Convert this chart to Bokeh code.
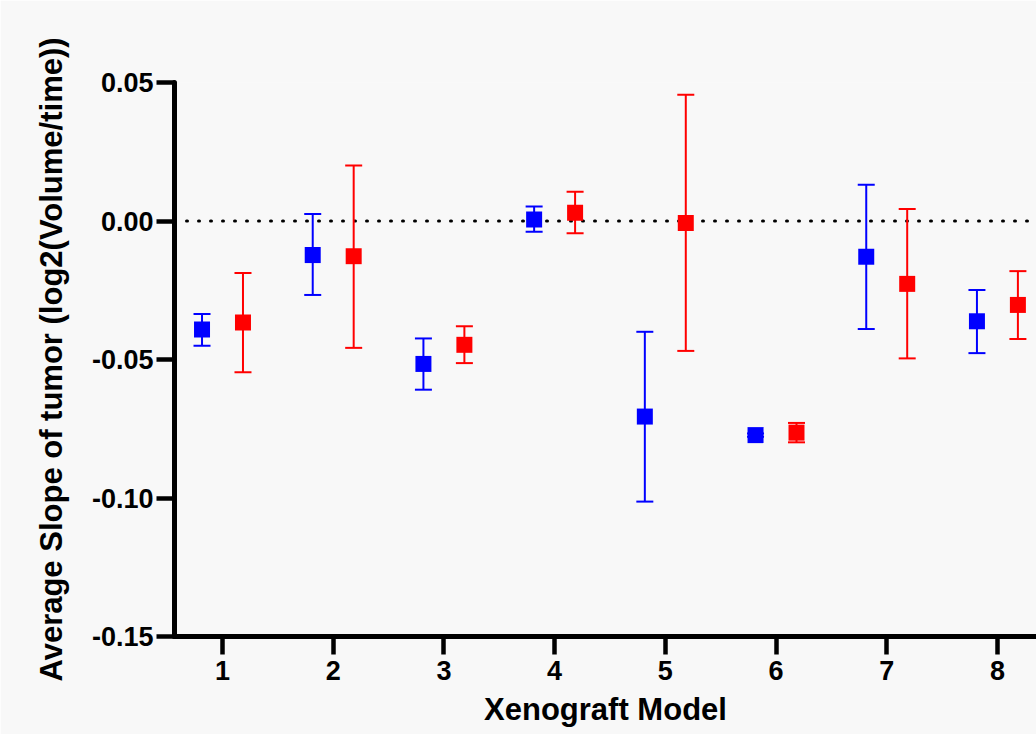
from bokeh.plotting import figure
from bokeh.models import (ColumnDataSource, Whisker, TeeHead, Span, FixedTicker,
                          NumeralTickFormatter, Range1d)
from bokeh.transform import dodge
from bokeh.embed import file_html
from bokeh.resources import INLINE

# ---- data ----
models = [1, 2, 3, 4, 5, 6, 7, 8]
blue_mean = [-0.0392, -0.0123, -0.0516, 0.0005, -0.0706, -0.0773, -0.0129, -0.0362]
blue_low = [-0.0450, -0.0267, -0.0609, -0.0039, -0.1013, -0.0779, -0.0390, -0.0477]
blue_high = [-0.0336, 0.0025, -0.0424, 0.0052, -0.0400, -0.0767, 0.0131, -0.0249]
red_mean = [-0.0366, -0.0127, -0.0447, 0.0030, -0.0007, -0.0764, -0.0227, -0.0303]
red_low = [-0.0546, -0.0458, -0.0513, -0.0044, -0.0469, -0.0799, -0.0496, -0.0426]
red_high = [-0.0188, 0.0200, -0.0380, 0.0106, 0.0456, -0.0729, 0.0043, -0.0181]
y_ticks = [-0.15, -0.10, -0.05, 0.00, 0.05]
x_ticks = models
x_title = "Xenograft Model"
y_title = "Average Slope of tumor (log2(Volume/time))"

FONT = "Liberation Sans"
BG = "#F8F8F8"

p = figure(width=1036, height=734,
           x_range=Range1d(0.5664, 8.353), y_range=Range1d(-0.15, 0.05),
           output_backend="svg", toolbar_location=None,
           min_border_left=174, min_border_right=0,
           min_border_top=82, min_border_bottom=98,
           background_fill_color=BG, border_fill_color=BG,
           outline_line_color=None)
p.xgrid.visible = False
p.ygrid.visible = False

zero = Span(location=0, dimension="width", line_color="black", line_width=3,
            line_dash="1 11", line_cap="round", level="underlay")
p.add_layout(zero)

series = [
    ("#0000FF", -0.185, blue_mean, blue_low, blue_high),
    ("#FF0000", 0.185, red_mean, red_low, red_high),
]
for color, off, m, lo, hi in series:
    src = ColumnDataSource(dict(x=models, m=m, lo=lo, hi=hi))
    w = Whisker(base=dodge("x", off), upper="hi", lower="lo", source=src,
                dimension="height", line_color=color, line_width=2,
                upper_head=TeeHead(size=17, line_color=color, line_width=2),
                lower_head=TeeHead(size=17, line_color=color, line_width=2),
                level="underlay")
    p.add_layout(w)
    p.scatter(x=dodge("x", off), y="m", source=src, marker="square", size=16,
              fill_color=color, line_color=color, line_width=0)

for ax in (p.xaxis, p.yaxis):
    ax.axis_line_width = 5
    ax.axis_line_color = "black"
    ax.axis_line_cap = "round"
    ax.major_tick_line_width = 4.5
    ax.major_tick_line_color = "black"
    ax.major_tick_out = 18
    ax.major_tick_in = 0
    ax.minor_tick_line_color = None
    ax.major_label_text_font = FONT
    ax.major_label_text_font_style = "bold"
    ax.major_label_text_font_size = "27px"
    ax.major_label_text_color = "black"
    ax.axis_label_text_font = FONT
    ax.axis_label_text_font_style = "bold"
    ax.axis_label_text_font_size = "31px"
    ax.axis_label_text_color = "black"

p.xaxis.ticker = FixedTicker(ticks=x_ticks)
p.xaxis.major_label_standoff = 6
p.xaxis.axis_label = x_title
p.xaxis.axis_label_standoff = 9

p.yaxis.ticker = FixedTicker(ticks=y_ticks)
p.yaxis.formatter = NumeralTickFormatter(format="0.00")
p.yaxis.major_label_standoff = 3
p.yaxis.axis_label = y_title
p.yaxis.axis_label_standoff = 20

open("out.html", "w").write(file_html(p, INLINE))
